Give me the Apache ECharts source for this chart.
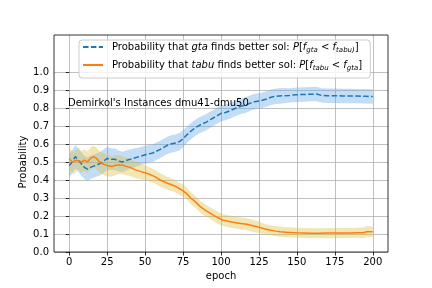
<!DOCTYPE html>
<html><head><meta charset="utf-8">
<script src="https://cdn.jsdelivr.net/npm/echarts@6/dist/echarts.min.js"></script>
<style>html,body{margin:0;padding:0;background:#fff}#c{width:432px;height:288px}</style>
</head><body><div id="c"></div>
<script>
const xTicks = [0,25,50,75,100,125,150,175,200];
const yTicks = [0.0,0.1,0.2,0.3,0.4,0.5,0.6,0.7,0.8,0.9,1.0];

const gtaX = [0,2,4,6,8,10,12,14,17,20,22,25,28,30,33,35,38,42,46,50,55,60,64,67,70,73,75,78,80,83,86,90,93,96,100,103,106,110,113,116,119,122,126,130,133,136,140,145,150,155,160,163,166,170,175,180,185,190,195,200];
const gtaMean = [0.48,0.50,0.53,0.51,0.49,0.47,0.46,0.47,0.48,0.49,0.50,0.52,0.515,0.515,0.505,0.50,0.51,0.52,0.53,0.54,0.55,0.57,0.59,0.60,0.605,0.615,0.63,0.655,0.67,0.69,0.705,0.72,0.735,0.75,0.77,0.775,0.785,0.80,0.81,0.815,0.826,0.835,0.84,0.85,0.86,0.865,0.868,0.87,0.874,0.875,0.877,0.878,0.87,0.868,0.868,0.867,0.867,0.866,0.865,0.864];
const gtaHalf = [0.065,0.065,0.065,0.065,0.065,0.065,0.065,0.065,0.065,0.065,0.065,0.065,
  0.06,0.06,0.058,0.057,0.055,0.053,0.05,0.05,
  0.048,0.048,0.048,0.048,0.048,0.048,0.048,
  0.045,0.045,0.045,0.045,0.045,0.045,0.045,0.045,
  0.043,0.043,0.043,0.043,0.043,0.043,0.043,0.043,0.043,0.043,0.043,0.043,
  0.04,0.04,0.04,0.04,0.04,0.04,0.04,0.04,0.04,0.04,0.04,0.04,0.04];

const tabuX = [0,2,3,5,6,8,10,12,14,16,18,20,22,25,28,30,33,36,40,44,48,52,56,60,64,67,70,73,75,78,80,83,86,89,92,95,98,101,104,107,110,113,117,121,125,129,132,136,139,143,147,150,155,160,165,170,175,180,185,190,194,196,200];
const tabuMean = [0.52,0.50,0.49,0.51,0.52,0.50,0.51,0.50,0.52,0.53,0.52,0.50,0.49,0.48,0.475,0.48,0.485,0.48,0.47,0.455,0.445,0.435,0.42,0.40,0.385,0.375,0.365,0.35,0.34,0.32,0.30,0.28,0.255,0.235,0.22,0.205,0.19,0.178,0.172,0.167,0.163,0.158,0.154,0.146,0.137,0.128,0.122,0.116,0.113,0.11,0.108,0.107,0.106,0.104,0.104,0.105,0.105,0.106,0.106,0.107,0.107,0.113,0.113];
const tabuHalf = [0.06,0.06,0.06,0.06,0.06,0.06,0.06,0.06,0.06,0.06,0.06,0.06,0.06,0.06,
  0.055,0.055,0.052,0.05,0.048,0.045,0.042,
  0.04,0.038,0.037,0.036,0.035,0.035,0.034,0.034,
  0.033,0.033,0.033,0.033,0.033,0.033,0.033,0.033,0.033,0.033,0.033,0.033,0.033,0.033,0.033,0.033,
  0.028,0.028,0.028,0.028,0.028,0.028,0.028,0.028,0.028,0.028,0.028,0.028,0.028,0.028,0.028,0.03,0.03,0.03];

const annotation = "Demirkol's Instances dmu41-dmu50";
const nameGta = 'gta';
const nameTabu = 'tabu';

const FONT = 'DejaVu Sans';
const chart = echarts.init(document.getElementById('c'), null, {renderer: 'canvas'});

function pairs(xs, ys) { return xs.map((x, i) => [x, ys[i]]); }

function bandSeries(xs, mean, half, fill, z) {
  return {
    type: 'custom', xAxisIndex: 0, yAxisIndex: 0, silent: true, z: z,
    data: [[xs[0], mean[0]]],
    clip: false,
    renderItem: function (params, api) {
      const up = xs.map((x, i) => api.coord([x, mean[i] + half[i]]));
      const lo = xs.map((x, i) => api.coord([x, mean[i] - half[i]])).reverse();
      return {type: 'polygon', shape: {points: up.concat(lo)}, style: {fill: fill, stroke: null}};
    }
  };
}

const option = {
  animation: false,
  backgroundColor: '#fff',
  textStyle: {fontFamily: FONT},
  grid: [
    {left: 69.2, top: 35, width: 303.6, height: 217, outerBoundsMode: 'none', containLabel: false},
    {left: 54, top: 72, width: 334, height: 180, outerBoundsMode: 'none', containLabel: false}
  ],
  xAxis: [
    {type: 'value', gridIndex: 0, min: 0, max: 200, interval: 25,
     axisLine: {show: false},
     axisTick: {show: true, inside: false, length: 3.5, lineStyle: {color: '#000', width: 0.8}},
     axisLabel: {show: true, margin: 5, color: '#000', fontSize: 10, fontFamily: FONT,
                 formatter: v => xTicks.includes(v) ? String(v) : ''},
     splitLine: {show: true, lineStyle: {color: '#b0b0b0', width: 0.8}},
     name: 'epoch', nameLocation: 'middle', nameGap: 19,
     nameTextStyle: {color: '#000', fontSize: 10, fontFamily: FONT}},
    {type: 'value', gridIndex: 1, min: -10, max: 210, show: false}
  ],
  yAxis: [
    {type: 'value', gridIndex: 0, min: 0, max: 217/180, show: false},
    {type: 'value', gridIndex: 1, min: 0, max: 1, interval: 0.1,
     axisLine: {show: false},
     axisTick: {show: true, inside: false, length: 3.5, lineStyle: {color: '#000', width: 0.8}},
     axisLabel: {show: true, margin: 5, color: '#000', fontSize: 10, fontFamily: FONT,
                 formatter: v => { const t = yTicks.find(y => Math.abs(y - v) < 1e-6); return t === undefined ? '' : t.toFixed(1); }},
     splitLine: {show: true, lineStyle: {color: '#b0b0b0', width: 0.8}},
     name: 'Probability', nameLocation: 'middle', nameGap: 26, nameRotate: 90, nameMoveOverlap: false,
     nameTextStyle: {color: '#000', fontSize: 10, fontFamily: FONT}}
  ],
  legend: {
    show: true, orient: 'vertical', left: 79, top: 40,
    data: [nameGta, nameTabu],
    itemWidth: 20, itemHeight: 10, itemGap: 6,
    padding: [2, 8, 6, 3],
    backgroundColor: 'rgba(255,255,255,0.8)',
    borderColor: '#cccccc', borderWidth: 1, borderRadius: 3,
    selectedMode: false,
    itemStyle: {opacity: 0},
    formatter: function (name) {
      if (name === nameGta) {
        return '{n|Probability that }{i|gta}{n| finds better sol: }{i|P}{n|[}{i|f}{s|gta}{n| < }{i|f}{s|tabu)}{n|]}';
      }
      return '{n|Probability that }{i|tabu}{n| finds better sol: }{i|P}{n|[}{i|f}{s|tabu}{n| < }{i|f}{s|gta}{n|]}';
    },
    textStyle: {
      color: '#000', fontSize: 10, fontFamily: FONT, padding: [0, 0, 0, 4],
      rich: {
        n: {fontSize: 10, fontFamily: FONT, color: '#000', lineHeight: 14},
        i: {fontSize: 10, fontFamily: FONT, fontStyle: 'italic', color: '#000', lineHeight: 14},
        s: {fontSize: 7, fontFamily: FONT, fontStyle: 'italic', color: '#000', lineHeight: 14, verticalAlign: 'bottom', padding: [5, 0, 0, 0]}
      }
    }
  },
  graphic: [
    {type: 'rect', shape: {x: 54, y: 35, width: 334, height: 217}, z: 100, silent: true,
     style: {fill: null, stroke: '#000', lineWidth: 0.8}},
    {type: 'text', left: 68, top: 98, z: 100, silent: true,
     style: {text: annotation, fill: '#000', font: '10px "DejaVu Sans"'}}
  ],
  series: [
    bandSeries(gtaX, gtaMean, gtaHalf, 'rgba(110,175,232,0.42)', 1),
    bandSeries(tabuX, tabuMean, tabuHalf, 'rgba(222,190,60,0.38)', 2),
    {name: nameGta, type: 'line', xAxisIndex: 0, yAxisIndex: 0, symbol: 'none', silent: true,
     data: pairs(gtaX, gtaMean), color: '#1f77b4',
     lineStyle: {color: '#1f77b4', width: 1.5, type: [5.5, 2.4]}, itemStyle: {color: '#1f77b4'}, z: 3},
    {name: nameTabu, type: 'line', xAxisIndex: 0, yAxisIndex: 0, symbol: 'none', silent: true,
     data: pairs(tabuX, tabuMean), color: '#ff7f0e',
     lineStyle: {color: '#ff7f0e', width: 1.5}, itemStyle: {color: '#ff7f0e'}, z: 4}
  ]
};
chart.setOption(option);
</script></body></html>
